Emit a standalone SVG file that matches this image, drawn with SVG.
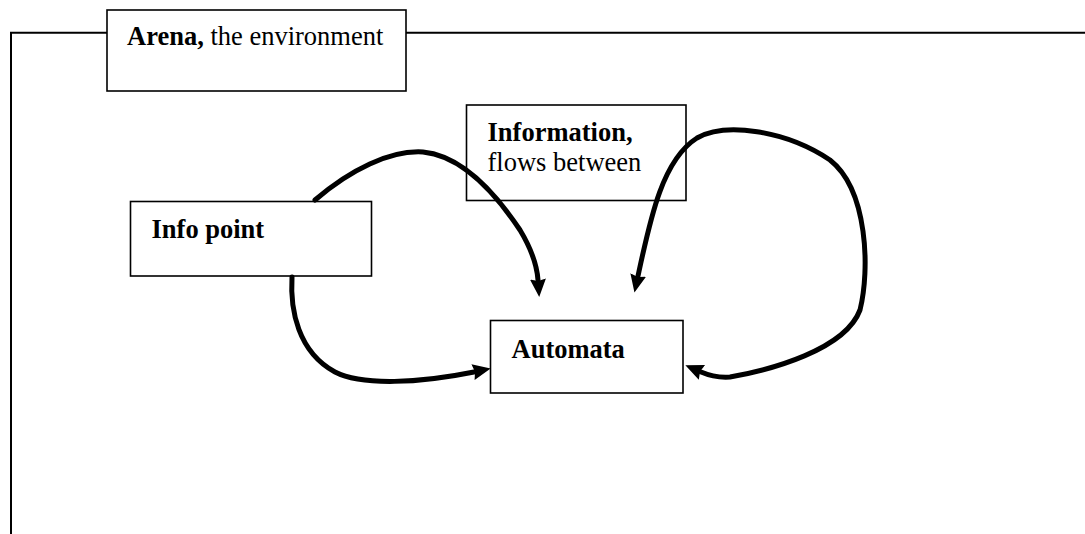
<svg xmlns="http://www.w3.org/2000/svg" width="1085" height="534" viewBox="0 0 1085 534">
<style>
.box{fill:#fff;stroke:#000;stroke-width:1.6}
.frame{fill:none;stroke:#000;stroke-width:2}
.t{font-family:"Liberation Serif","Times New Roman",serif;font-size:26.5px;fill:#000}
.b{font-weight:bold}
.flow{fill:none;stroke:#000;stroke-width:5;stroke-linecap:round}
</style>
<defs>
<marker id="ah" markerUnits="userSpaceOnUse" markerWidth="20" markerHeight="18" refX="1" refY="8" orient="auto-start-reverse">
<path d="M0,0 L18,8 L0,16 L2,8 z" fill="#000"/>
</marker>
</defs>
<rect width="1085" height="534" fill="#fff"/>
<g id="frame">
<path class="frame" d="M11,534 V32.7 H1085"/>
</g>
<g id="arena">
<rect class="box" x="107" y="10" width="299" height="81"/>
<text class="t" x="127" y="45"><tspan class="b">Arena,</tspan> the environment</text>
</g>
<g id="information">
<rect class="box" x="466.5" y="105" width="219.5" height="95.5"/>
<text class="t b" x="487.5" y="141">Information,</text>
<text class="t" x="487.5" y="171">flows between</text>
</g>
<g id="infopoint">
<rect class="box" x="130.5" y="201.5" width="241" height="74.5"/>
<text class="t b" x="151.5" y="237.5">Info point</text>
</g>
<g id="automata">
<rect class="box" x="490.5" y="320.5" width="192.5" height="72.5"/>
<text class="t b" x="511.5" y="357.5">Automata</text>
</g>
<g id="connectors">
<path class="flow" marker-end="url(#ah)" d="M315,200 C350,170 390,150 423,152 C465,156 500,200 520,230 C532,250 537,266 538,280"/>
<path class="flow" marker-end="url(#ah)" d="M292,277 C290,310 298,352 335,372 C362,386 420,383 474,372"/>
<path class="flow" marker-start="url(#ah)" marker-end="url(#ah)" d="M638,276 C650,220 662,160 697,138 C725,122 785,130 830,160 C868,190 870,270 860,310 C845,350 770,370 730,377 C716,378 708,375 701,372"/>
</g>
</svg>
